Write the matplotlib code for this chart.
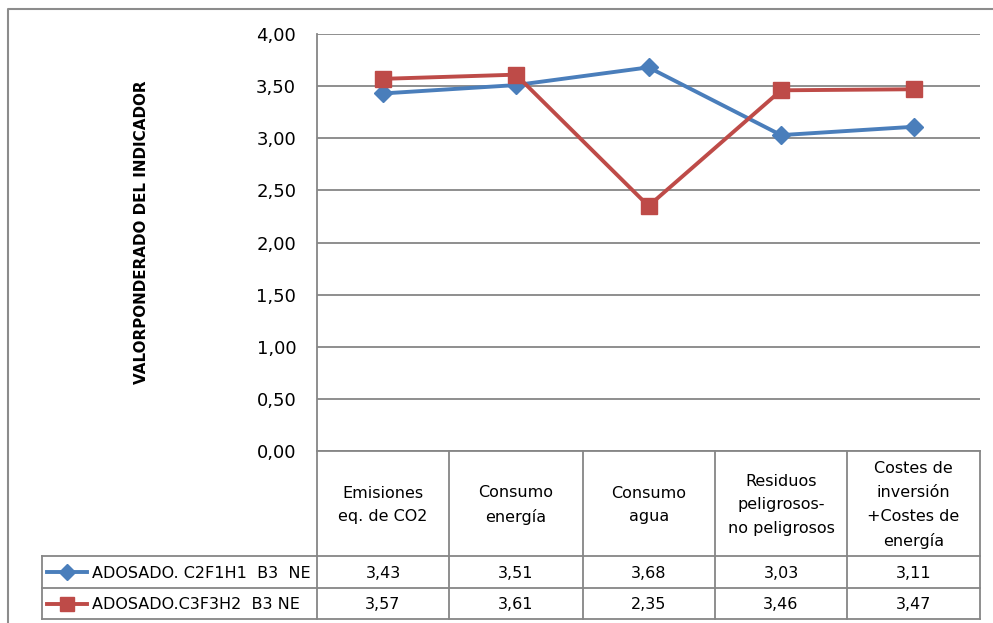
import matplotlib
matplotlib.use("Agg")
import matplotlib.pyplot as plt
from matplotlib.lines import Line2D

# Data
categories = [
    "Emisiones\neq. de CO2",
    "Consumo\nenergía",
    "Consumo\nagua",
    "Residuos\npeligrosos-\nno peligrosos",
    "Costes de\ninversión\n+Costes de\nenergía",
]
series_names = ["ADOSADO. C2F1H1  B3  NE", "ADOSADO.C3F3H2  B3 NE"]
serie_c2f1h1 = [3.43, 3.51, 3.68, 3.03, 3.11]
serie_c3f3h2 = [3.57, 3.61, 2.35, 3.46, 3.47]
y_ticks = [0.0, 0.5, 1.0, 1.5, 2.0, 2.5, 3.0, 3.5, 4.0]

plt.rcParams["font.family"] = ["DejaVu Sans"]

W, H = 993, 623
fig = plt.figure(figsize=(W / 100, H / 100), dpi=100)
fig.patch.set_facecolor("white")

GRID = "#868686"
BLUE = "#4A7EBB"
RED = "#BE4B48"


def fx(x):
    return x / W


def fy(y):
    return 1 - y / H


# Plot area
left, right, top, bottom = 317, 980, 34, 451
ax = fig.add_axes([fx(left), fy(bottom), fx(right - left), (bottom - top) / H])
n = len(categories)
xs = list(range(n))
ax.set_xlim(-0.5, n - 0.5)
ax.set_ylim(0, 4)
for t in y_ticks:
    ax.axhline(t, color=GRID, lw=1.3, zorder=1)
for s in ["top", "right", "bottom"]:
    ax.spines[s].set_visible(False)
ax.spines["left"].set_color(GRID)
ax.spines["left"].set_linewidth(1.3)
ax.set_xticks([])
ax.set_yticks(y_ticks)
ax.set_yticklabels([f"{t:.2f}".replace(".", ",") for t in y_ticks], fontsize=13)
ax.tick_params(axis="y", length=0, pad=15, colors="black")
ax.set_facecolor("none")

ax.plot(xs, serie_c2f1h1, color=BLUE, lw=2.8, marker="D", ms=9.5,
        mfc=BLUE, mec=BLUE, zorder=3)
ax.plot(xs, serie_c3f3h2, color=RED, lw=2.8, marker="s", ms=11.5,
        mfc=RED, mec=RED, zorder=3)

fig.text(fx(141), fy(232), "VALORPONDERADO DEL INDICADOR", rotation=90,
         ha="center", va="center", fontsize=10.9, fontweight="bold")

# Outer chart frame
frame = fig.add_axes([0, 0, 1, 1])
frame.set_xlim(0, W)
frame.set_ylim(H, 0)
frame.axis("off")
frame.plot([8, 8, W], [H, 9, 9], color="#8C8C8C", lw=1.5)

# Data table
tab_left = 42
col_edges = [317, 449, 583, 715, 847, 980]
row_edges = [451, 556, 588, 619]
lc = dict(color=GRID, lw=1.3)
for xe in col_edges:
    frame.plot([xe, xe], [row_edges[0], row_edges[-1]], **lc)
for ye in row_edges[1:]:
    frame.plot([tab_left, col_edges[-1]], [ye, ye], **lc)
frame.plot([col_edges[0], col_edges[-1]], [row_edges[0], row_edges[0]], **lc)
frame.plot([tab_left, tab_left], [row_edges[1], row_edges[-1]], **lc)

centers = [(col_edges[i] + col_edges[i + 1]) / 2 for i in range(n)]
for cx, cat in zip(centers, categories):
    frame.text(cx, 505, cat, ha="center", va="center", fontsize=11.5,
               linespacing=1.75)

rows = [(series_names[0], serie_c2f1h1, BLUE, "D", 8),
        (series_names[1], serie_c3f3h2, RED, "s", 10)]
for i, (name, vals, col, mk, ms) in enumerate(rows):
    yc = (row_edges[i + 1] + row_edges[i + 2]) / 2
    frame.add_line(Line2D([47, 87], [yc, yc], color=col, lw=2.8))
    frame.plot([67], [yc], marker=mk, ms=ms, color=col, mec=col)
    frame.text(92, yc + 1, name, ha="left", va="center", fontsize=11.5)
    for cx, v in zip(centers, vals):
        frame.text(cx, yc + 1, f"{v:.2f}".replace(".", ","), ha="center",
                   va="center", fontsize=11.5)

fig.savefig("out.png", dpi=100)
